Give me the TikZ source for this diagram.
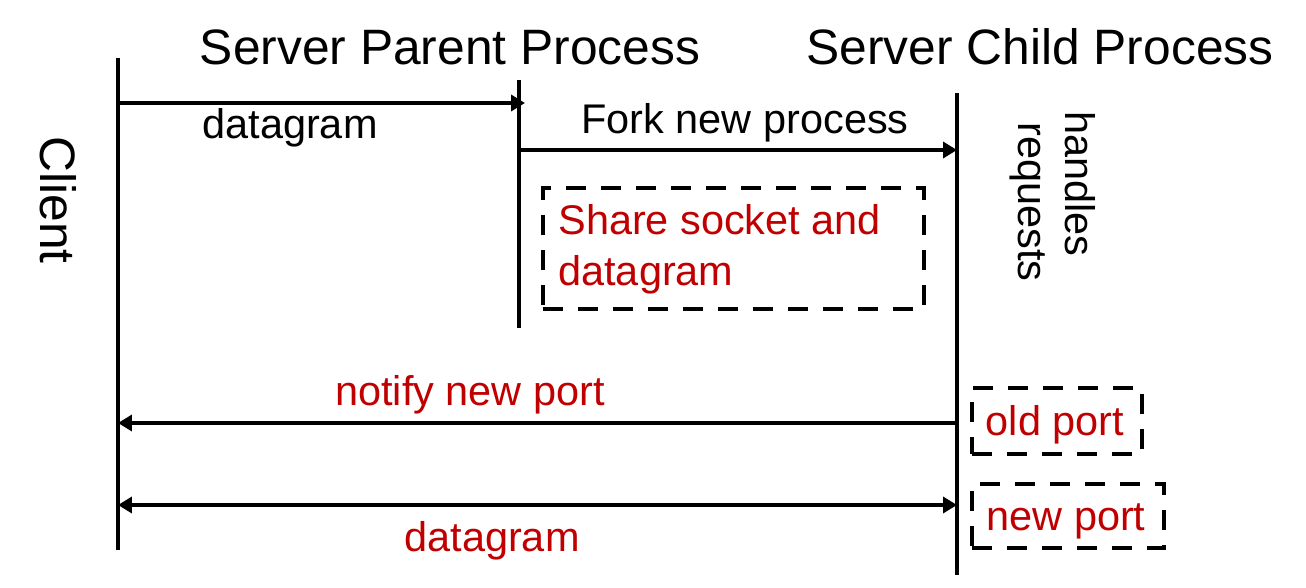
\documentclass[tikz,border=0pt]{standalone}
\usepackage{fontspec}
\setmainfont{Liberation Sans}
\usetikzlibrary{arrows.meta}
\definecolor{darkred}{RGB}{192,0,0}
\begin{document}
\begin{tikzpicture}[x=0.02cm,y=-0.02cm,
  lifeline/.style={line width=0.08cm},
  msg/.style={line width=0.08cm,-{Triangle[length=0.28cm,width=0.32cm]}},
  dmsg/.style={line width=0.08cm,{Triangle[length=0.28cm,width=0.32cm]}-{Triangle[length=0.28cm,width=0.32cm]}},
  dbox/.style={draw,line width=0.08cm,dash pattern=on 0.4cm off 0.3cm},
  title/.style={font=\fontsize{28.3}{34}\selectfont,anchor=base,inner sep=0},
  lbl/.style={font=\fontsize{23.6}{28}\selectfont,anchor=base,inner sep=0},
  rlbl/.style={lbl,text=darkred}]
\useasboundingbox (0,0) rectangle (1306,588);
% lifelines
\coordinate (c1) at (118,58); \coordinate (c2) at (118,550);
\coordinate (p1) at (519,80); \coordinate (p2) at (519,328);
\coordinate (s1) at (957,93); \coordinate (s2) at (957,575);
\draw[lifeline] (c1) -- (c2);
\draw[lifeline] (p1) -- (p2);
\draw[lifeline] (s1) -- (s2);
% titles
\node[title] (tp) at (450,65) {Server Parent Process};
\node[title] (tc) at (1040,65) {Server Child Process};
\node[font=\fontsize{28.3}{34}\selectfont,rotate=-90,inner sep=0] (client) at (58,200) {Client};
\node[lbl,rotate=-90] (hr1) at (1065,184) {handles};
\node[lbl,rotate=-90] (hr2) at (1018,202) {requests};
% messages
\coordinate (a1) at (118,103); \coordinate (a2) at (525,103);
\draw[msg] (a1) -- (a2);
\node[lbl] (l1) at (290,139) {datagram};
\coordinate (f1) at (519,150); \coordinate (f2) at (957,150);
\draw[msg] (f1) -- (f2);
\node[lbl] (l2) at (745,133) {Fork new process};
\node[dbox,minimum width=381*0.02cm,minimum height=121*0.02cm,anchor=north west] (sb) at (541,186) {};
\node[rlbl,anchor=base west] (sh1) at (558,235) {Share socket and};
\node[rlbl,anchor=base west] (sh2) at (558,285) {datagram};
\coordinate (n1) at (957,423); \coordinate (n2) at (118,423);
\draw[msg] (n1) -- (n2);
\node[rlbl] (l3) at (470,405) {notify new port};
\coordinate (d1) at (118,505); \coordinate (d2) at (957,505);
\draw[dmsg] (d1) -- (d2);
\node[rlbl] (l4) at (492,551) {datagram};
\node[dbox,minimum width=170*0.02cm,minimum height=66*0.02cm,anchor=north west] (ob) at (970,386) {};
\node[rlbl] (op) at (1055,435) {old port};
\node[dbox,minimum width=192*0.02cm,minimum height=64*0.02cm,anchor=north west] (nb) at (970,482) {};
\node[rlbl] (np) at (1066,530) {new port};
\end{tikzpicture}
\end{document}
